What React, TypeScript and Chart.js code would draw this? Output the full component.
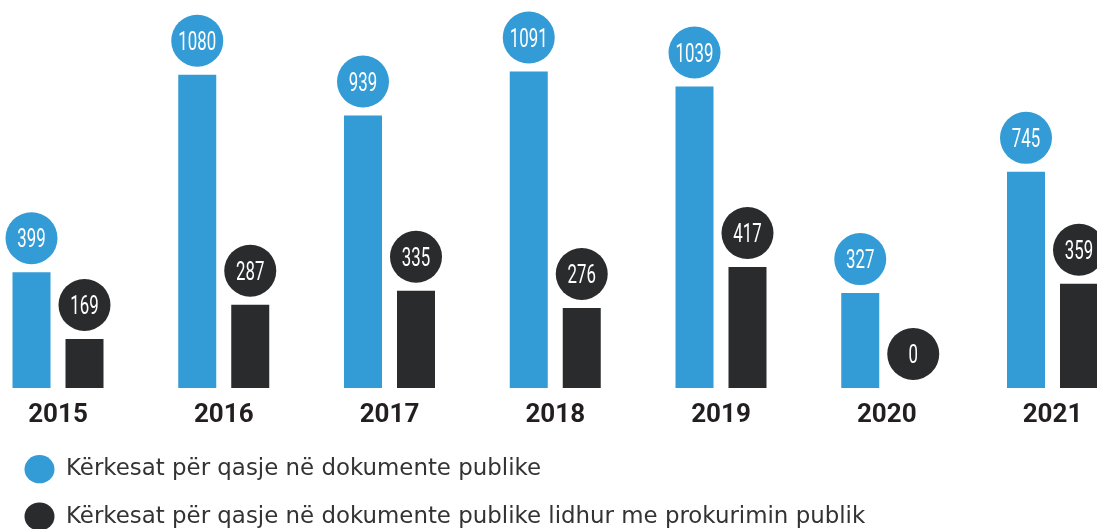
import React, { useEffect, useRef } from "react";
import { Chart, registerables } from "chart.js";

Chart.register(...registerables);

const years = ["2015", "2016", "2017", "2018", "2019", "2020", "2021"];
const publicDocs = [399, 1080, 939, 1091, 1039, 327, 745];
const procurementDocs = [169, 287, 335, 276, 417, 0, 359];
const seriesLabels = [
  "Kërkesat për qasje në dokumente publike",
  "Kërkesat për qasje në dokumente publike lidhur me prokurimin publik",
];
const BLUE = "#339bd6";
const DARK = "#2a2b2d";

const bubblePlugin = {
  id: "bubbles",
  afterDatasetsDraw(chart: any) {
    const ctx = chart.ctx;
    chart.data.datasets.forEach((ds: any, di: number) => {
      const meta = chart.getDatasetMeta(di);
      meta.data.forEach((el: any, i: number) => {
        const v = ds.data[i];
        const cx = el.x;
        const cy = el.y - 34;
        ctx.save();
        ctx.beginPath();
        ctx.arc(cx, cy, 26, 0, Math.PI * 2);
        ctx.fillStyle = ds.backgroundColor;
        ctx.fill();
        ctx.translate(cx, cy + 9);
        ctx.scale(0.66, 1);
        ctx.font = "400 25.5px Roboto";
        ctx.fillStyle = "#ffffff";
        ctx.textAlign = "center";
        ctx.textBaseline = "alphabetic";
        ctx.fillText(String(v), 0, 0);
        ctx.restore();
      });
    });
  },
};

export default function App() {
  const ref = useRef<HTMLCanvasElement | null>(null);
  useEffect(() => {
    if (!ref.current) return;
    const chart = new Chart(ref.current, {
      type: "bar",
      data: {
        labels: years,
        datasets: [
          {
            label: seriesLabels[0],
            data: publicDocs,
            backgroundColor: BLUE,
            borderWidth: 0,
            categoryPercentage: 0.6395,
            barPercentage: 0.717,
            clip: false as any,
          },
          {
            label: seriesLabels[1],
            data: procurementDocs,
            backgroundColor: DARK,
            borderWidth: 0,
            categoryPercentage: 0.6395,
            barPercentage: 0.717,
            clip: false as any,
          },
        ],
      },
      options: {
        responsive: false,
        animation: false,
        devicePixelRatio: 1,
        events: [],
        layout: { padding: { top: 37, right: 44.5, bottom: 0, left: 0 } },
        scales: {
          x: {
            offset: false,
            grid: { display: false, drawTicks: false },
            border: { display: false },
            ticks: {
              padding: 12,
              color: "#231f20",
              font: { family: "Roboto", weight: "bold", size: 26 },
              maxRotation: 0,
              autoSkip: false,
            },
            afterFit(scale: any) {
              scale.height = 45.25;
            },
          },
          y: {
            min: 0,
            max: 1210,
            grid: { display: false, drawTicks: false },
            border: { display: false },
            ticks: { display: false },
            afterFit(scale: any) {
              scale.width = 58;
            },
          },
        },
        plugins: {
          tooltip: { enabled: false },
          legend: {
            position: "bottom",
            align: "start",
            labels: {
              usePointStyle: true,
              pointStyle: "circle",
              pointStyleWidth: 30,
              boxHeight: 20,
              padding: 24.5,
              color: "#333333",
              font: { family: "DejaVu Sans", size: 22.9 },
            },
          },
        },
      },
      plugins: [bubblePlugin],
    });
    return () => chart.destroy();
  }, []);

  return (
    <div
      style={{
        position: "absolute",
        left: 0,
        top: 0,
        width: 1097,
        height: 529,
        overflow: "hidden",
        background: "#ffffff",
      }}
    >
      <canvas ref={ref} width={1097} height={538} style={{ display: "block" }} />
    </div>
  );
}
